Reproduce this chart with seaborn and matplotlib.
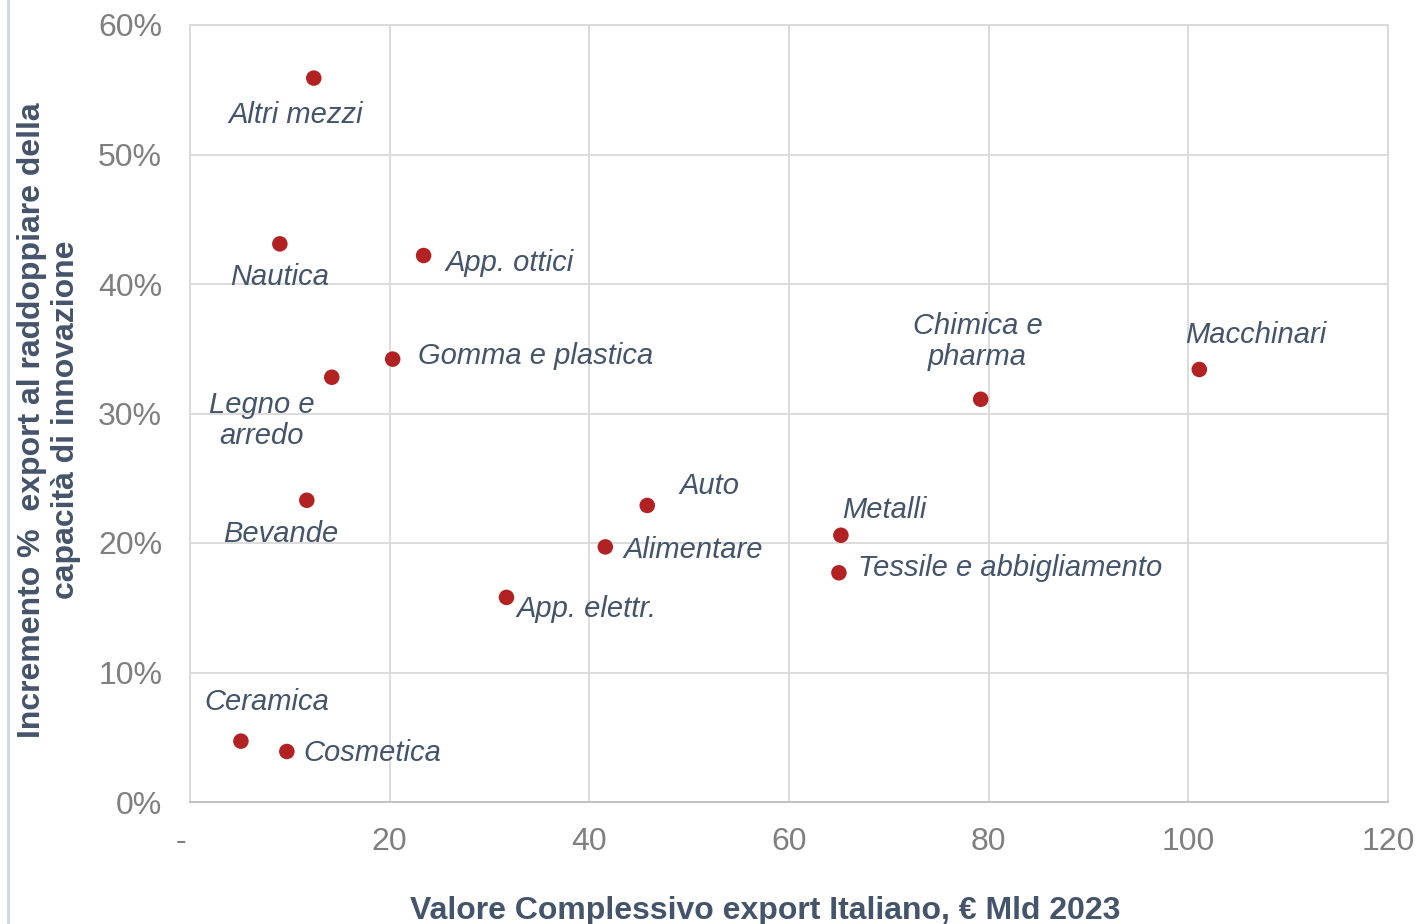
import pandas as pd
import seaborn as sb
import matplotlib.pyplot as plt
from matplotlib.lines import Line2D
from matplotlib.ticker import FuncFormatter

settori = ['Altri mezzi', 'Nautica', 'App. ottici', 'Gomma e plastica', 'Legno e\narredo',
           'Chimica e\npharma', 'Macchinari', 'Bevande', 'Auto', 'Alimentare', 'Metalli',
           'Tessile e abbigliamento', 'App. elettr.', 'Ceramica', 'Cosmetica']
export_mld = [12.4, 9.0, 23.4, 20.3, 14.2, 79.2, 101.1, 11.7, 45.8, 41.6, 65.2, 65.0, 31.7, 5.1, 9.7]
incremento = [0.559, 0.431, 0.422, 0.342, 0.328, 0.311, 0.334, 0.233, 0.229, 0.197, 0.206, 0.177, 0.158, 0.047, 0.039]

# label offsets in pixels (dx, dy up), alignment
offsets = [(-18, -37, 'center'), (0, -33, 'center'), (22, -7, 'left'), (25, 3, 'left'),
           (-70, -43, 'center'), (-3, 58, 'center'), (56, 34, 'center'), (-26, -34, 'center'),
           (62, 19, 'center'), (18, -3, 'left'), (43, 25, 'center'), (19, 5, 'left'),
           (10, -12, 'left'), (26, 39, 'center'), (17, -2, 'left')]

df = pd.DataFrame({'settore': settori, 'export': export_mld, 'incremento': incremento})

sb.set_style('white')
plt.rcParams['font.family'] = ['Liberation Sans', 'DejaVu Sans']

testo = '#44546A'
grigio = '#7F7F7F'

fig = plt.figure(figsize=(14.18, 9.24), dpi=100)
ax = fig.add_axes([190 / 1418, 1 - 802 / 924, 1198 / 1418, 777 / 924])

sb.scatterplot(data=df, x='export', y='incremento', ax=ax, color='#B22222', s=125,
               edgecolor='none', zorder=3)

for (nome, x, y), (dx, dy, ha) in zip(zip(settori, export_mld, incremento), offsets):
    ax.annotate(nome, (x, y), xytext=(dx, dy), textcoords='offset pixels', ha=ha, va='center',
                fontsize=21, style='italic', color=testo, linespacing=1.15)

ax.set_xlim(0, 120)
ax.set_ylim(0, 0.6)
ax.set_xticks(range(0, 121, 20))
ax.set_yticks([i / 10 for i in range(7)])
ax.xaxis.set_major_formatter(FuncFormatter(lambda v, p: '-  ' if v == 0 else f'{v:.0f}'))
ax.yaxis.set_major_formatter(FuncFormatter(lambda v, p: f'{v * 100:.0f}%'))
ax.tick_params(axis='both', length=0, labelsize=23, labelcolor=grigio)
ax.tick_params(axis='x', pad=18)
ax.tick_params(axis='y', pad=20)
ax.grid(True, color='#D9D9D9', lw=1.3)
ax.set_axisbelow(True)
for sp in ax.spines.values():
    sp.set_color('#D9D9D9')
    sp.set_linewidth(1.3)
ax.spines['bottom'].set_color('#BFBFBF')
ax.set_xlabel('')
ax.set_ylabel('')

fig.text(765 / 1418, 1 - 911 / 924, 'Valore Complessivo export Italiano, € Mld 2023',
         ha='center', va='center', fontsize=23, fontweight='bold', color=testo)
fig.text(49 / 1418, 1 - 420 / 924,
         'Incremento %  export al raddoppiare della\ncapacità di innovazione',
         ha='center', va='center', rotation=90, fontsize=23, fontweight='bold', color=testo,
         linespacing=1.15)

fig.add_artist(Line2D([8 / 1418, 8 / 1418], [0, 1], color='#C9D6EA', lw=2))

fig.savefig('out.png', dpi=100)
